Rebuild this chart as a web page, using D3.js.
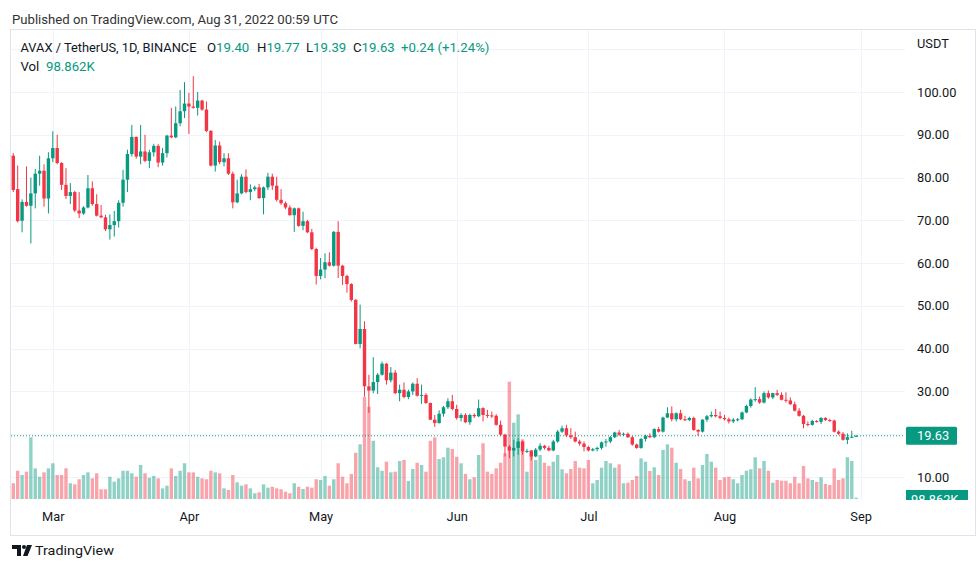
<!DOCTYPE html>
<html><head><meta charset="utf-8">
<script src="https://cdn.jsdelivr.net/npm/d3@7"></script>
<style>
body{margin:0;background:#fff}
svg{display:block}
text{font-family:Roboto,"Noto Sans",sans-serif}
</style>
</head><body>
<svg id="c" width="980" height="569"></svg>
<script>
// ---------------- DATA ----------------
const startDate = "2022-02-20"; // first daily candle
const opens = [
85.1,77.3,69.9,74.3,73.4,76.3,80.9,81.6,75.1,84.5,
86.9,83.4,78.3,75.7,76.6,72.3,71.6,73.0,77.5,73.8,
71.1,70.7,67.9,68.9,69.8,74.1,79.5,85.5,89.5,84.9,
86.1,83.9,85.9,87.4,83.5,85.7,89.8,89.4,92.7,95.5,
97.3,96.6,96.3,98.0,95.9,90.9,82.8,87.5,83.6,84.5,
80.9,74.2,76.3,80.2,76.6,77.3,77.7,75.2,77.7,80.2,
78.1,74.8,74.0,73.0,71.2,72.8,68.7,69.8,67.2,63.3,
57.0,58.5,60.2,59.4,67.3,59.4,57.0,55.1,51.4,41.1,
44.6,31.2,30.2,32.2,33.9,36.5,32.6,34.4,29.6,30.4,
28.7,30.0,31.8,29.0,29.2,27.3,23.4,22.6,24.8,26.3,
27.7,25.9,23.8,24.5,22.8,24.5,24.2,26.1,24.5,24.4,
24.3,22.2,19.9,17.1,16.2,16.8,18.3,16.0,16.1,14.8,
16.4,17.3,16.8,16.2,18.3,20.6,21.4,19.7,19.3,18.3,
17.8,17.0,16.2,16.5,16.8,18.1,18.3,19.3,20.4,19.9,
20.1,19.3,17.6,16.8,18.9,19.6,19.3,21.2,20.6,23.9,
24.9,23.5,24.9,23.5,23.3,23.8,21.0,20.6,23.4,24.2,
24.5,24.2,23.8,23.5,23.0,23.4,23.5,25.1,26.6,28.0,
28.2,27.4,29.6,28.6,29.6,29.2,28.05,27.9,27.0,25.5,
24.3,22.4,22.2,23.1,22.9,23.8,23.3,23.2,20.6,20.1,
18.7,19.3,19.40];
const highs = [
85.7,82.8,74.9,82.6,80.0,82.0,85.1,83.1,85.9,90.8,
90.0,83.6,82.2,78.7,76.9,76.6,73.3,80.6,79.1,76.1,
73.6,71.3,71.4,72.2,74.7,81.8,86.5,92.3,89.6,92.3,
90.0,86.5,87.9,87.8,86.9,90.0,96.3,96.6,100.5,102.3,
99.8,103.7,100.0,98.2,97.8,91.1,88.8,88.4,85.7,85.7,
81.4,79.5,80.8,81.9,78.4,78.1,78.5,77.9,81.1,80.9,
80.2,77.3,74.4,73.5,73.0,73.0,72.0,70.1,68.0,63.6,
61.2,62.3,62.5,67.5,69.8,59.6,57.3,55.3,51.6,50.3,
46.4,33.9,38.0,34.3,37.0,36.6,35.7,35.0,31.6,32.1,
30.4,32.1,33.1,31.6,29.6,27.4,24.5,25.6,26.6,28.4,
29.2,26.9,24.9,24.9,24.8,24.9,28.1,26.3,25.7,25.3,
24.7,23.2,20.1,17.5,18.7,19.1,18.5,16.6,16.3,16.8,
17.9,17.5,17.3,18.7,21.0,22.0,22.2,21.4,20.6,18.7,
18.3,17.3,16.8,17.1,18.3,18.9,19.6,20.6,21.0,20.4,
20.4,19.6,17.8,19.1,19.9,20.2,21.4,21.7,24.1,26.3,
26.5,25.1,25.7,24.3,24.1,24.1,21.2,23.5,24.5,25.3,
25.9,25.3,24.5,23.9,23.8,23.8,25.3,26.9,28.4,31.0,
28.8,30.0,30.2,29.7,30.4,29.8,29.8,28.6,27.6,26.1,
24.5,23.0,23.4,23.3,24.0,24.0,23.6,23.4,20.9,20.5,
20.2,20.8,19.77];
const lows = [
76.6,69.5,67.2,73.2,64.6,72.8,78.1,73.2,71.6,83.6,
83.1,77.1,75.0,73.8,71.9,70.5,71.3,72.8,73.4,70.9,
70.5,67.5,65.5,66.2,68.3,73.2,76.6,84.9,84.4,83.1,
83.6,82.2,84.9,82.4,82.8,84.7,89.2,89.2,92.0,93.9,
90.2,96.1,94.5,95.6,90.6,82.6,81.4,83.1,82.6,80.6,
72.8,74.0,76.1,76.3,74.7,76.8,75.0,71.4,77.1,77.1,
74.4,73.6,72.6,71.1,67.3,68.5,67.7,67.0,63.0,55.0,
56.2,56.5,59.2,59.2,56.5,54.9,53.1,51.0,41.0,40.1,
28.8,25.0,29.6,29.4,33.7,31.6,32.1,29.4,27.7,28.4,
28.2,29.2,28.8,27.1,27.1,23.3,21.7,22.5,24.1,25.9,
25.6,23.4,23.0,22.6,22.2,23.8,24.0,23.0,23.8,23.8,
22.0,19.6,14.8,14.4,14.8,15.2,15.2,15.6,13.9,14.6,
16.0,16.4,16.0,16.0,18.0,20.3,19.3,18.9,18.1,17.3,
16.0,16.0,16.0,16.0,16.4,17.1,17.9,19.1,19.6,19.6,
19.1,17.3,16.6,16.6,18.3,19.1,19.1,20.4,20.4,23.8,
23.0,23.0,23.3,23.1,23.1,20.8,19.6,20.4,22.9,23.9,
23.9,23.5,23.2,22.5,22.6,23.0,23.3,24.9,26.2,27.6,
27.1,27.2,28.3,28.2,28.9,27.9,27.4,26.9,25.3,24.1,
21.4,21.8,22.0,22.7,22.4,23.1,22.9,20.4,19.8,18.5,
17.7,19.1,19.39];
const closes = [
77.1,69.8,74.3,73.4,76.3,80.9,81.6,75.1,84.5,86.9,
83.4,78.3,75.7,76.6,72.3,71.6,73.0,77.5,73.8,71.1,
70.7,67.9,68.9,69.8,74.1,79.5,85.5,89.5,84.9,86.1,
83.9,85.9,87.4,83.5,85.7,89.8,89.4,92.7,95.5,97.3,
96.6,96.3,98.0,95.9,90.9,82.8,87.5,83.6,84.5,80.9,
74.2,76.3,80.2,76.6,77.3,77.7,75.2,77.7,80.2,78.1,
74.8,74.0,73.0,71.2,72.8,68.7,69.8,67.2,63.3,57.0,
58.5,60.2,59.4,67.3,59.4,57.0,55.1,51.4,41.1,44.6,
31.2,30.2,32.2,33.9,36.5,32.6,34.4,29.6,30.4,28.7,
30.0,31.8,29.0,29.2,27.3,23.4,22.6,24.8,26.3,27.7,
25.9,23.8,24.5,22.8,24.5,24.2,26.1,24.5,24.4,24.3,
22.2,19.9,17.1,16.2,16.8,18.3,16.0,16.1,14.8,16.4,
17.3,16.8,16.2,18.3,20.6,21.4,19.7,19.3,18.3,17.8,
17.0,16.2,16.5,16.8,18.1,18.3,19.3,20.4,19.9,20.1,
19.3,17.6,16.8,18.9,19.6,19.3,21.2,20.6,23.9,24.9,
23.5,24.9,23.5,23.3,23.8,21.0,20.6,23.4,24.2,24.5,
24.2,23.8,23.5,23.0,23.4,23.5,25.1,26.6,28.1,28.2,
27.4,29.6,28.6,29.6,29.2,28.05,27.9,27.0,25.5,24.3,
22.4,22.2,23.1,22.9,23.8,23.3,23.2,20.6,20.1,18.7,
19.3,19.40,19.63];
// volume in thousands of AVAX
const volumes = [
1180,2120,1800,2050,4630,2300,1670,2000,2300,2680,1800,1800,2300,1180,1100,1480,1800,2000,1550,1930,730,730,1670,1300,1550,
2120,2120,1930,1670,2550,1930,1600,1730,1550,800,1000,2300,1730,2120,2680,2000,2000,1670,1550,1480,2120,2000,1930,800,680,
1800,1250,1000,1100,800,430,500,1100,850,920,800,730,550,430,1180,920,750,920,850,1480,1430,1730,1000,1480,2680,
1670,1180,1880,3470,4100,7670,6920,4370,2380,2120,2800,2000,2050,2850,2930,1350,2250,2720,2550,2050,4370,4630,3000,3130,3850,
3750,3170,2680,1880,1480,1630,3300,4180,2050,1880,2300,2720,3430,8800,5720,6350,4480,2050,3680,2930,3300,2720,2480,2800,3300,
2230,1930,2250,2850,2350,2300,2930,1180,1430,2350,2850,2680,2350,2600,1180,1220,1430,1730,3050,2800,2100,2380,1800,3680,4100,
3850,2720,2250,1480,1350,2350,1550,2550,3380,2800,2350,1430,1630,1670,1480,1180,1800,2120,2230,3130,2300,2850,2120,1220,1430,
1370,1370,1180,1670,1180,2480,1550,1430,1280,1630,1130,1050,2300,1430,1550,3130,2850,98.862];
const priceGrid = [10,20,30,40,50,60,70,80,90,100,110];
const priceLabels = [10,30,40,50,60,70,80,90,100];
const monthStarts = ["2022-03-01","2022-04-01","2022-05-01","2022-06-01","2022-07-01","2022-08-01","2022-09-01"];
const lastPrice = 19.63, lastVolLabel = "98.862K";
const legendTitle = "AVAX / TetherUS, 1D, BINANCE";
const legendOHLC = [["O","19.40"],["H","19.77"],["L","19.39"],["C","19.63"],["","+0.24 (+1.24%)"]];

// ---------------- CHART ----------------
const GREEN="#089981", RED="#f23645", TXT="#131722", GRID="#f0f3fa";
const svg = d3.select("#c");
const t0 = d3.utcParse("%Y-%m-%d")(startDate);
const data = opens.map((o,i)=>({d:d3.utcDay.offset(t0,i),o,h:highs[i],l:lows[i],c:closes[i],v:volumes[i]}));
const step = 4.39;
const x = d3.scaleUtc().domain([t0, d3.utcDay.offset(t0,193)]).range([13.3, 13.3+193*step]);
const y = d3.scaleLinear().domain([10,100]).range([477,92]);
const yv = d3.scaleLinear().domain([0,8800]).range([499,381.7]);
const pane = {x0:11, x1:905, y0:30, y1:500};

svg.append("defs").append("clipPath").attr("id","pc").append("rect")
  .attr("x",pane.x0).attr("y",pane.y0).attr("width",pane.x1-pane.x0).attr("height",pane.y1-pane.y0);

// header
svg.append("text").attr("x",12).attr("y",24).attr("font-size",13.5).attr("fill","#333")
  .attr("textLength",326).attr("lengthAdjust","spacingAndGlyphs")
  .text("Published on TradingView.com, Aug 31, 2022 00:59 UTC");

// frame
svg.append("rect").attr("x",10.5).attr("y",29.5).attr("width",965).attr("height",506)
  .attr("fill","none").attr("stroke","#e0e3eb");

// gridlines
const g = svg.append("g").attr("clip-path","url(#pc)");
g.selectAll(".hg").data(priceGrid).join("line")
  .attr("x1",pane.x0).attr("x2",pane.x1).attr("y1",d=>Math.round(y(d))+0.5).attr("y2",d=>Math.round(y(d))+0.5)
  .attr("stroke",GRID);
const months = monthStarts.map(s=>d3.utcParse("%Y-%m-%d")(s));
g.selectAll(".vg").data(months).join("line")
  .attr("x1",d=>Math.round(x(d))+0.5).attr("x2",d=>Math.round(x(d))+0.5).attr("y1",pane.y0).attr("y2",pane.y1)
  .attr("stroke",GRID);

// volume bars
const bw = 3.4;
g.selectAll(".vb").data(data).join("rect")
  .attr("x",d=>x(d.d)-bw/2).attr("width",bw)
  .attr("y",d=>yv(d.v)).attr("height",d=>yv(0)-yv(d.v))
  .attr("fill",d=>d.c>=d.o?GREEN:RED).attr("fill-opacity",0.45);

// price line
g.append("line").attr("x1",pane.x0).attr("x2",pane.x1)
  .attr("y1",y(lastPrice)).attr("y2",y(lastPrice))
  .attr("stroke",GREEN).attr("stroke-dasharray","1,2").attr("stroke-width",1);

// candles
const cg = g.append("g");
cg.selectAll(".wk").data(data).join("line")
  .attr("x1",d=>x(d.d)).attr("x2",d=>x(d.d)).attr("y1",d=>y(d.h)).attr("y2",d=>y(d.l))
  .attr("stroke",d=>d.c>=d.o?GREEN:RED).attr("stroke-width",1);
cg.selectAll(".bd").data(data).join("rect")
  .attr("x",d=>x(d.d)-bw/2).attr("width",bw)
  .attr("y",d=>y(Math.max(d.o,d.c))).attr("height",d=>Math.max(1,Math.abs(y(d.o)-y(d.c))))
  .attr("fill",d=>d.c>=d.o?GREEN:RED);

// legend
const lg = svg.append("g").attr("font-size",13.2);
lg.append("text").attr("x",20.5).attr("y",52).attr("fill",TXT)
  .attr("textLength",176).attr("lengthAdjust","spacingAndGlyphs").text(legendTitle);
const lx = [207,257,306,353,401];
legendOHLC.forEach((p,i)=>{
  const t = lg.append("text").attr("x",lx[i]).attr("y",52);
  if(p[0]) t.append("tspan").attr("fill",TXT).text(p[0]);
  t.append("tspan").attr("fill",GREEN).text(p[1]);
});
const vt = lg.append("text").attr("x",20.5).attr("y",71);
vt.append("tspan").attr("fill",TXT).text("Vol");
vt.append("tspan").attr("x",46).attr("fill",GREEN).text(lastVolLabel);

// price axis
const ya = svg.append("g").attr("transform","translate(912,0)")
  .call(d3.axisRight(y).tickValues(priceLabels).tickSize(0).tickPadding(5).tickFormat(d3.format(".2f")));
ya.select(".domain").remove();
ya.selectAll("text").attr("font-size",12.8).attr("fill",TXT).attr("font-family","Roboto,sans-serif");
svg.append("text").attr("x",917).attr("y",48).attr("font-size",12.8).attr("fill",TXT).text("USDT");

// last price label
svg.append("rect").attr("x",906).attr("y",y(lastPrice)-9).attr("width",51).attr("height",18).attr("rx",1.5).attr("fill",GREEN);
svg.append("text").attr("x",917).attr("y",y(lastPrice)+4.5).attr("font-size",12.8).attr("fill","#fff").text(d3.format(".2f")(lastPrice));
// volume label (clipped at pane bottom)
svg.append("clipPath").attr("id","vc").append("rect").attr("x",900).attr("y",480).attr("width",80).attr("height",20);
const vl = svg.append("g").attr("clip-path","url(#vc)");
vl.append("rect").attr("x",906).attr("y",490).attr("width",62).attr("height",18).attr("fill",GREEN);
vl.append("text").attr("x",911).attr("y",504).attr("font-size",12.8).attr("fill","#fff").text(lastVolLabel);

// time axis
const xa = svg.append("g").attr("transform","translate(0,507)")
  .call(d3.axisBottom(x).tickValues(months).tickSize(0).tickPadding(5).tickFormat(d3.utcFormat("%b")));
xa.select(".domain").remove();
xa.selectAll("text").attr("font-size",12.8).attr("fill",TXT).attr("font-family","Roboto,sans-serif");

// TradingView logo
const lgo = svg.append("g").attr("fill",TXT);
lgo.append("path").attr("d","M12,545 H21 V556 H17 V549 H12 Z");
lgo.append("circle").attr("cx",24).attr("cy",547).attr("r",2);
lgo.append("path").attr("d","M27,545 H32 L27.5,556 H23 Z");
svg.append("text").attr("x",35).attr("y",555).attr("font-size",13.5).attr("fill",TXT)
  .attr("textLength",79).attr("lengthAdjust","spacingAndGlyphs").text("TradingView");
</script>
</body></html>
